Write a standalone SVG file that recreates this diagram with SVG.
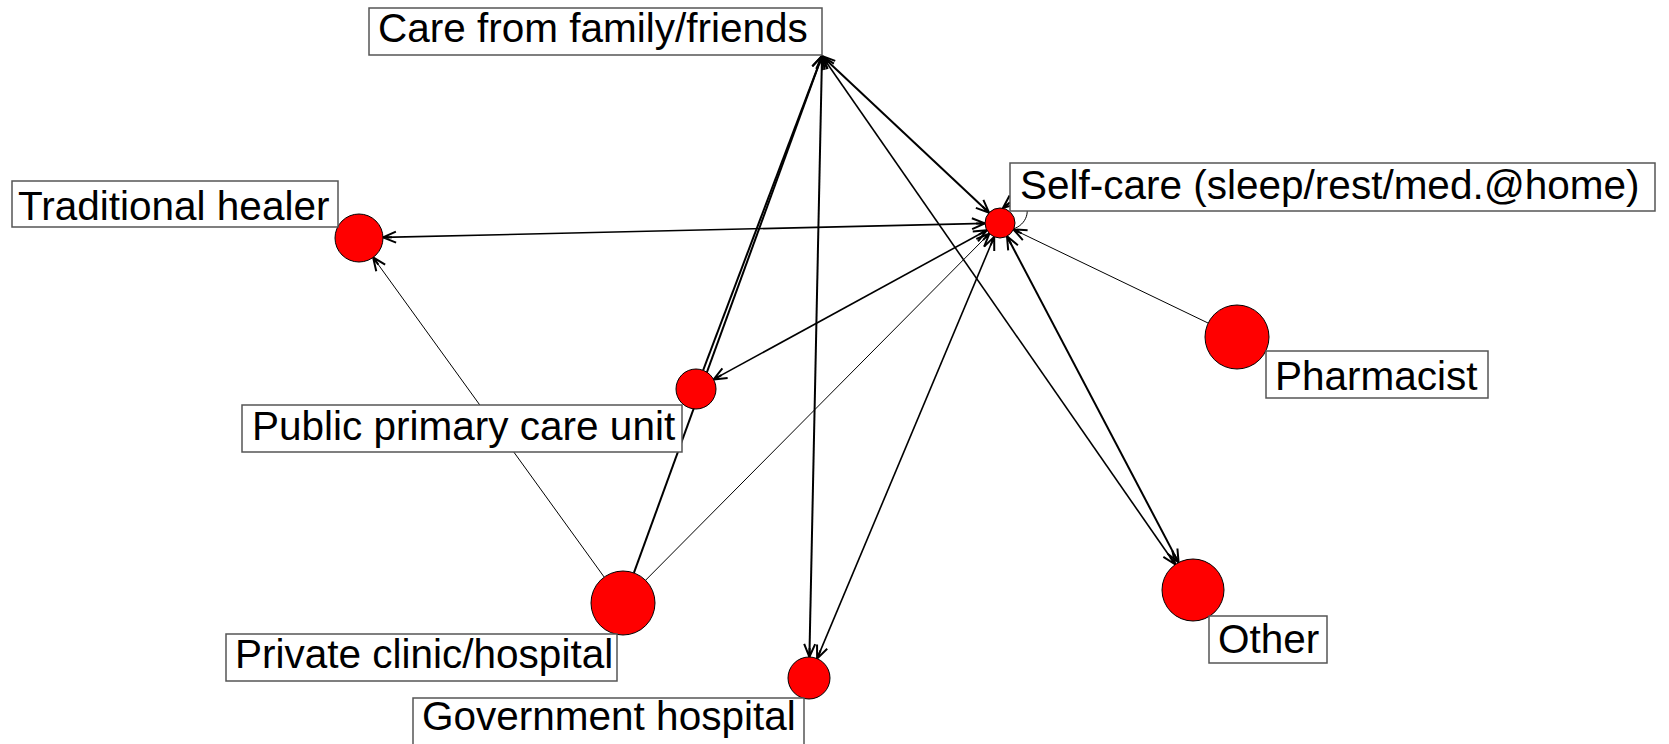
<svg xmlns="http://www.w3.org/2000/svg" width="1669" height="744" viewBox="0 0 1669 744">
<style>
.e{fill:none;stroke:#000;stroke-width:2}
.t{fill:none;stroke:#000;stroke-width:1}
.n{fill:#ff0000;stroke:#000;stroke-width:1}
.b{fill:#fff;stroke:#555;stroke-width:1.5}
.l{font-family:"Liberation Sans",Arial,sans-serif;font-size:40.5px;fill:#000}
</style>
<defs>
<marker id="ah" viewBox="0 0 16 14" refX="15" refY="7" markerWidth="16" markerHeight="14" markerUnits="userSpaceOnUse" orient="auto-start-reverse">
<path d="M2,1.5 L15,7 L2,12.5 M6,7 L15,7" fill="none" stroke="#000" stroke-width="2"/>
</marker>
</defs>
<rect width="1669" height="744" fill="#fff"/>
<g id="edges">
<line class="e" x1="822" y1="56" x2="989.1" y2="212.7" marker-start="url(#ah)" marker-end="url(#ah)"/>
<line class="e" x1="822" y1="56" x2="1175.3" y2="564.5" marker-start="url(#ah)" marker-end="url(#ah)" style="stroke-width:1.6"/>
<line class="e" x1="822" y1="56" x2="809.4" y2="657" marker-start="url(#ah)" marker-end="url(#ah)"/>
<line class="e" x1="703.1" y1="370.3" x2="822" y2="56" marker-end="url(#ah)"/>
<line class="e" x1="633.9" y1="572.9" x2="822" y2="56" marker-end="url(#ah)"/>
<line class="e" x1="383" y1="237.4" x2="985" y2="223.4" marker-start="url(#ah)" marker-end="url(#ah)" style="stroke-width:1.6"/>
<line class="t" x1="604.2" y1="577.1" x2="373.1" y2="257.4" marker-end="url(#ah)"/>
<line class="t" x1="645.5" y1="580.3" x2="989.4" y2="233.6" marker-end="url(#ah)"/>
<line class="e" x1="713.6" y1="379.4" x2="986.8" y2="230.2" marker-start="url(#ah)" marker-end="url(#ah)" style="stroke-width:1.6"/>
<line class="e" x1="817.1" y1="658.6" x2="994.2" y2="236.8" marker-start="url(#ah)" marker-end="url(#ah)" style="stroke-width:1.6"/>
<line class="e" x1="1178.6" y1="562.6" x2="1007" y2="236.3" marker-start="url(#ah)" marker-end="url(#ah)"/>
<line class="t" x1="1208.2" y1="323.1" x2="1013.5" y2="229.5" marker-end="url(#ah)"/>
<path class="t" d="M1013,229 C1036,222 1030,186 1003,208" marker-end="url(#ah)"/>
</g>
<g id="node-care">
<rect class="b" x="369" y="8" width="453" height="47"/>
<text class="l" x="378" y="42">Care from family/friends</text>
</g>
<g id="node-selfcare">
<circle class="n" cx="1000" cy="223" r="15"/>
<rect class="b" x="1010" y="163" width="645" height="48"/>
<text class="l" x="1020" y="199">Self-care (sleep/rest/med.@home)</text>
</g>
<g id="node-traditional">
<circle class="n" cx="359" cy="238" r="24"/>
<rect class="b" x="12" y="181" width="326" height="46"/>
<text class="l" x="18" y="220">Traditional healer</text>
</g>
<g id="node-ppcu">
<circle class="n" cx="696" cy="389" r="20"/>
<rect class="b" x="242" y="405" width="440" height="47"/>
<text class="l" x="252" y="440">Public primary care unit</text>
</g>
<g id="node-pharmacist">
<circle class="n" cx="1237" cy="337" r="32"/>
<rect class="b" x="1266" y="351" width="222" height="47"/>
<text class="l" x="1275" y="390">Pharmacist</text>
</g>
<g id="node-private">
<circle class="n" cx="623" cy="603" r="32"/>
<rect class="b" x="226" y="634" width="391" height="47"/>
<text class="l" x="235" y="668">Private clinic/hospital</text>
</g>
<g id="node-government">
<circle class="n" cx="809" cy="678" r="21"/>
<rect class="b" x="413" y="698" width="391" height="52"/>
<text class="l" x="422" y="730">Government hospital</text>
</g>
<g id="node-other">
<circle class="n" cx="1193" cy="590" r="31"/>
<rect class="b" x="1209" y="616" width="118" height="47"/>
<text class="l" x="1218" y="653">Other</text>
</g>
</svg>
